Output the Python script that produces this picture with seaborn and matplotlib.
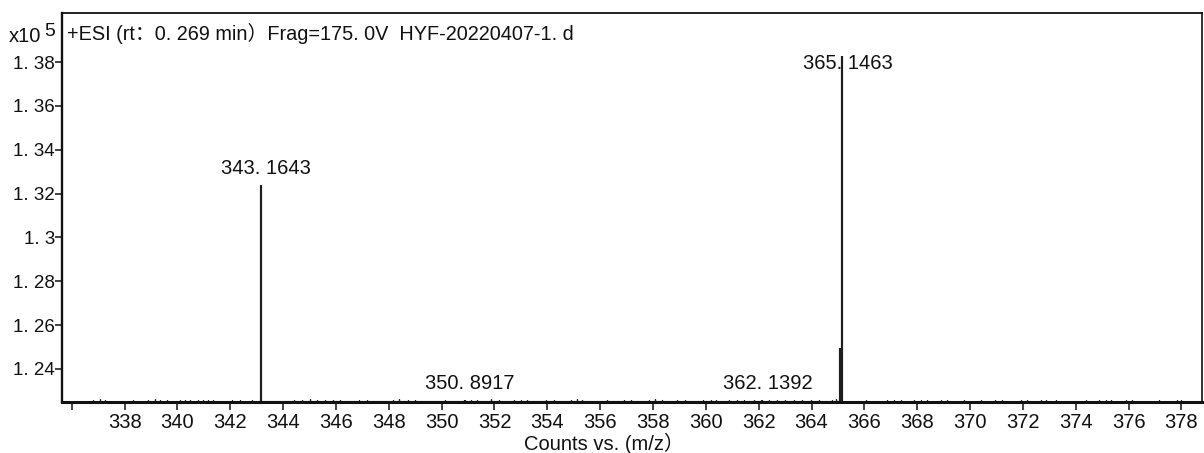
import matplotlib
matplotlib.use("Agg")
import matplotlib.pyplot as plt
import numpy as np
import pandas as pd
import seaborn as sns

# Labelled peaks: m/z and intensity (x10^5 counts)
peak_mz = [343.1643, 350.8917, 362.1392, 365.08, 365.1463]
peak_counts = [1.3240, 1.2260, 1.2259, 1.2495, 1.3829]
peak_labels = ["343. 1643", "350. 8917", "362. 1392", "", "365. 1463"]

# Baseline noise sticks: m/z and intensity (x10^5 counts)
noise_mz = [336.79, 337.06, 337.24, 338.30, 338.87, 339.14, 339.33, 339.59,
            340.08, 340.27, 340.46, 340.76, 340.95, 341.14, 341.33, 342.05,
            342.35, 342.84, 343.11, 344.43, 344.70, 345.00, 345.30, 345.57,
            345.87, 346.14, 346.89, 347.19, 348.14, 348.40, 348.71, 349.01,
            350.11, 351.12, 351.35, 351.88, 352.18, 352.75, 353.02, 353.24,
            353.96, 354.26, 354.91, 355.13, 355.32, 356.27, 356.91, 357.18,
            357.86, 358.08, 358.35, 358.92, 359.22, 359.90, 360.20, 360.39,
            360.88, 361.18, 361.45, 361.83, 362.40, 362.70, 363.00, 363.34,
            363.64, 363.98, 364.29, 364.78, 364.93, 366.06, 366.86, 367.12,
            367.39, 367.88, 368.15, 368.37, 368.90, 369.13, 369.77, 370.42,
            370.94, 371.21, 371.93, 372.16, 372.69, 372.88, 373.25, 374.39,
            374.88, 375.14, 375.33, 375.90, 376.13, 377.15, 377.83, 377.98]
noise_counts = [1.2259, 1.2261, 1.2259, 1.2257, 1.2260, 1.2261, 1.2259, 1.2260,
                1.2258, 1.2260, 1.2258, 1.2260, 1.2259, 1.2260, 1.2258, 1.2259,
                1.2260, 1.2259, 1.2258, 1.2260, 1.2259, 1.2261, 1.2259, 1.2260,
                1.2259, 1.2258, 1.2259, 1.2260, 1.2259, 1.2261, 1.2259, 1.2258,
                1.2258, 1.2260, 1.2259, 1.2261, 1.2259, 1.2260, 1.2259, 1.2258,
                1.2259, 1.2260, 1.2259, 1.2261, 1.2258, 1.2259, 1.2259, 1.2258,
                1.2260, 1.2261, 1.2259, 1.2259, 1.2258, 1.2259, 1.2260, 1.2258,
                1.2259, 1.2260, 1.2258, 1.2259, 1.2258, 1.2259, 1.2260, 1.2258,
                1.2259, 1.2258, 1.2259, 1.2259, 1.2261, 1.2258, 1.2259, 1.2260,
                1.2259, 1.2258, 1.2260, 1.2259, 1.2258, 1.2259, 1.2258, 1.2259,
                1.2260, 1.2258, 1.2259, 1.2260, 1.2259, 1.2258, 1.2259, 1.2258,
                1.2259, 1.2260, 1.2259, 1.2258, 1.2260, 1.2258, 1.2259, 1.2260]

x_ticks = list(range(336, 379, 2))
x_ticklabels = [""] + [str(v) for v in range(338, 379, 2)]
y_ticks = [1.24, 1.26, 1.28, 1.30, 1.32, 1.34, 1.36, 1.38]
y_ticklabels = ["1. 24", "1. 26", "1. 28", "1. 3", "1. 32", "1. 34", "1. 36", "1. 38"]

title_text = "+ESI (rt：0. 269 min）Frag=175. 0V  HYF-20220407-1. d"
x_title = "Counts vs. (m/z）"

X_MIN, X_MAX = 335.63, 378.78
Y_MIN, Y_MAX = 1.2249, 1.4024

sns.set_theme(style="ticks")
plt.rcParams["font.family"] = ["Liberation Sans", "Noto Sans CJK SC", "DejaVu Sans"]


def stick_profile(mz_values, count_values):
    """Each stick rises from the baseline to its intensity and drops back."""
    mz_arr = np.asarray(mz_values, dtype=float)
    cnt_arr = np.asarray(count_values, dtype=float)
    rows = []
    for i in np.argsort(mz_arr, kind="stable"):
        rows.append((mz_arr[i], Y_MIN))
        rows.append((mz_arr[i], cnt_arr[i]))
        rows.append((mz_arr[i], Y_MIN))
    return pd.DataFrame(rows, columns=["mz", "counts"])


noise_df = stick_profile(noise_mz, noise_counts)
peak_df = stick_profile(peak_mz, peak_counts)

fig = plt.figure(figsize=(12.04, 4.53), dpi=100)
ax = fig.add_axes([62 / 1204, 1 - 402 / 453, (1202 - 62) / 1204, (402 - 13) / 453])

sns.lineplot(data=noise_df, x="mz", y="counts", sort=False, estimator=None,
             color="#2a2a2a", linewidth=0.9, solid_joinstyle="bevel", ax=ax)
sns.lineplot(data=peak_df, x="mz", y="counts", sort=False, estimator=None,
             color="#1e1e1e", linewidth=1.5, solid_joinstyle="bevel", ax=ax)

ax.set_xlim(X_MIN, X_MAX)
ax.set_ylim(Y_MIN, Y_MAX)
ax.set_xticks(x_ticks)
ax.set_xticklabels(x_ticklabels)
ax.set_yticks(y_ticks)
ax.set_yticklabels(y_ticklabels)
ax.set_xlabel("")
ax.set_ylabel("")
ax.tick_params(axis="x", direction="out", length=6, width=1.1, pad=2,
               labelsize=14.5, colors="#111111")
ax.tick_params(axis="y", direction="out", length=5, width=1.1, pad=0,
               labelsize=13.5, colors="#111111")

for side, lw in (("left", 1.7), ("bottom", 2.2), ("top", 1.3), ("right", 1.2)):
    ax.spines[side].set_visible(True)
    ax.spines[side].set_linewidth(lw)
    ax.spines[side].set_color("#111111")

# Peak annotations (m/z of each labelled stick)
label_offsets = {"365. 1463": (6, -17)}
for mz, cnt, lab in zip(peak_mz, peak_counts, peak_labels):
    if not lab:
        continue
    dx, dy = label_offsets.get(lab, (5, 7))
    ax.annotate(lab, xy=(mz, cnt), xytext=(dx, dy), textcoords="offset pixels",
                ha="center", va="bottom", fontsize=14.5, color="#111111")

ax.text(0.0045, 0.948, title_text, transform=ax.transAxes, ha="left",
        va="center", fontsize=14.3, color="#111111",
        family=["Liberation Sans", "Noto Sans CJK SC"])

fig.text(9 / 1204, 1 - 42 / 453, "x10", ha="left", va="baseline",
         fontsize=14.5, color="#111111")
fig.text(44 / 1204, 1 - 36 / 453, "5", ha="left", va="baseline",
         fontsize=14, color="#111111")

fig.text(604 / 1204, 1 - 443 / 453, x_title, ha="center", va="center",
         fontsize=14.5, color="#111111",
         family=["Liberation Sans", "Noto Sans CJK SC"])

fig.savefig("out.png", dpi=100, facecolor="white")
